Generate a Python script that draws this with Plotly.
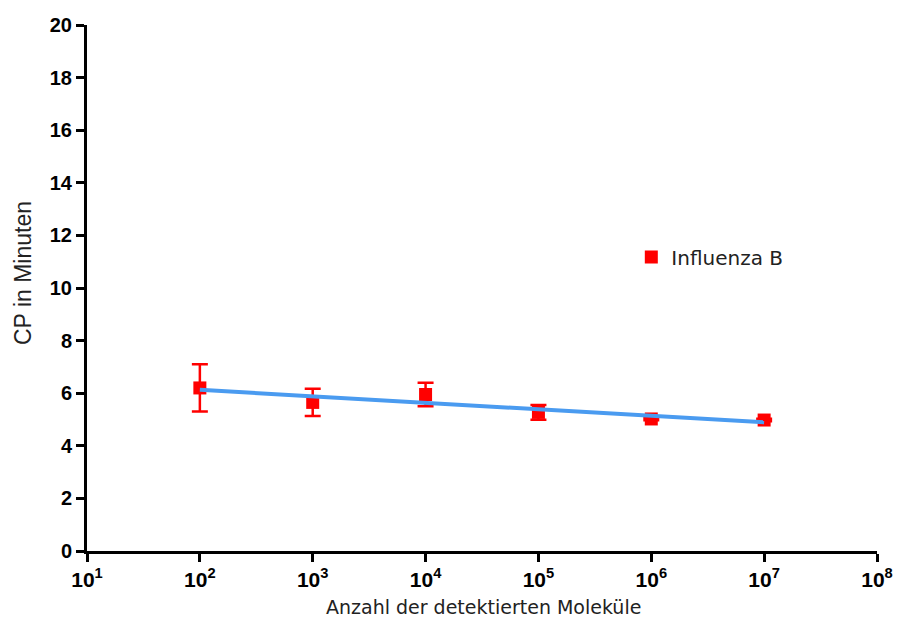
import numpy as np
import plotly.graph_objects as go

# Measured crossing points (CP, minutes) per number of detected molecules
molecules = [1e2, 1e3, 1e4, 1e5, 1e6, 1e7]
cp_mean = [6.2, 5.65, 5.95, 5.27, 5.02, 4.98]
cp_err = [0.9, 0.52, 0.45, 0.28, 0.05, 0.05]

x_tick_vals = [1e1, 1e2, 1e3, 1e4, 1e5, 1e6, 1e7, 1e8]
x_tick_text = ["<b>10<sup>%d</sup></b>" % e for e in range(1, 9)]
y_tick_vals = list(range(0, 21, 2))

# Linear fit of CP against log10(molecules)
logx = np.log10(molecules)
slope, intercept = np.polyfit(logx, cp_mean, 1)
fit_x = np.array([molecules[0], molecules[-1]])
fit_y = slope * np.log10(fit_x) + intercept

fig = go.Figure()
fig.add_trace(go.Scatter(
    x=molecules, y=cp_mean, mode="markers", name="Influenza B",
    marker=dict(symbol="square", size=13, color="#ff0000"),
    error_y=dict(type="data", array=cp_err, visible=True,
                 color="#ff0000", thickness=2.5, width=8),
))
fig.add_trace(go.Scatter(
    x=fit_x, y=fit_y, mode="lines", showlegend=False,
    line=dict(color="#4a9bf0", width=4),
))

axis_common = dict(
    showline=True, linecolor="black", linewidth=3,
    ticks="outside", ticklen=8, tickwidth=3, tickcolor="black",
    showgrid=False, zeroline=False, automargin=False,
)

fig.update_layout(
    width=897, height=625,
    margin=dict(l=87, r=20, t=25, b=74),
    plot_bgcolor="white", paper_bgcolor="white",
    font=dict(family="DejaVu Sans", size=16, color="#222222"),
    xaxis=dict(type="log", range=[1, 8], tickvals=x_tick_vals, ticktext=x_tick_text,
               tickfont=dict(family="Liberation Sans", size=21, color="black", weight="bold"),
               **axis_common),
    yaxis=dict(range=[0, 20], tickvals=y_tick_vals,
               tickfont=dict(family="Liberation Sans", size=20, color="black", weight="bold"),
               **axis_common),
    legend=dict(x=0.689, y=0.559, xanchor="left", yanchor="middle",
                bgcolor="rgba(0,0,0,0)", font=dict(family="DejaVu Sans", size=20, color="#222222")),
    annotations=[
        dict(text="Anzahl der detektierten Moleküle", xref="paper", yref="paper",
             x=0.502, y=-0.106, xanchor="center", yanchor="middle", showarrow=False,
             font=dict(family="DejaVu Sans", size=19, color="#222222")),
        dict(text="CP in Minuten", xref="paper", yref="paper", textangle=-90,
             x=-0.081, y=0.5285, xanchor="center", yanchor="middle", showarrow=False,
             font=dict(family="Liberation Sans", size=23, color="#222222")),
    ],
)

fig.write_html("out.html")
